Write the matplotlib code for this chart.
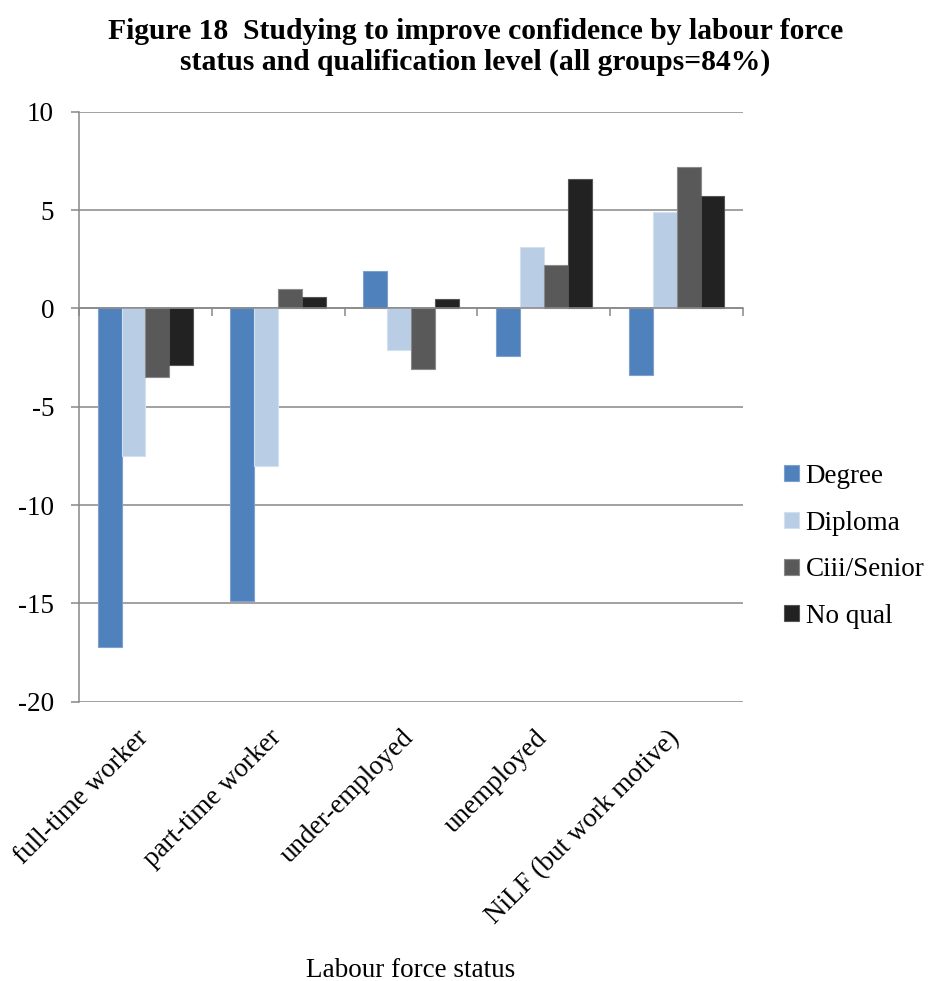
import numpy as np
import matplotlib.pyplot as plt
from matplotlib.transforms import ScaledTranslation

plt.rcParams["font.family"] = ["Liberation Serif", "DejaVu Serif"]
plt.rcParams["axes.unicode_minus"] = False

# Change in share studying to improve confidence, by labour force status
status = ["full-time worker", "part-time worker", "under-employed",
          "unemployed", "NiLF (but work motive)"]
degree = [-17.2, -14.9, 1.9, -2.4, -3.4]
diploma = [-7.5, -8.0, -2.1, 3.1, 4.9]
ciii_senior = [-3.5, 1.0, -3.1, 2.2, 7.2]
no_qual = [-2.9, 0.6, 0.5, 6.6, 5.7]

series = [("Degree", degree, "#4f81bd", "#7da0cc"),
          ("Diploma", diploma, "#b9cde5", "#d3e0ef"),
          ("Ciii/Senior", ciii_senior, "#595959", "#8a8a8a"),
          ("No qual", no_qual, "#222222", "#555555")]

grid_col = "#888888"
fs = 19.5

fig = plt.figure(figsize=(9.3, 9.81), dpi=100)
ax = fig.add_axes([0.085, 0.2847, 0.714, 0.6014])

x = np.arange(len(status))
w = 0.18
for i, (name, vals, col, edge) in enumerate(series):
    ax.bar(x + (i - 1.5) * w, vals, w, color=col, edgecolor=edge,
           linewidth=0.8, label=name, zorder=3)

ax.set_xlim(-0.5, len(status) - 0.5)
ax.set_ylim(-20, 10)
ax.set_yticks(np.arange(-20, 11, 5))
ax.yaxis.grid(True, color=grid_col, linewidth=1.1, zorder=0)
ax.tick_params(axis="y", direction="out", length=6, width=1.1,
               color=grid_col, pad=12, labelsize=fs)

# category axis sits on the zero line, ticks between groups
for s in ["top", "right"]:
    ax.spines[s].set_visible(False)
ax.spines["left"].set_color(grid_col)
ax.spines["left"].set_linewidth(1.1)
ax.spines["bottom"].set_position(("data", 0))
ax.spines["bottom"].set_color(grid_col)
ax.spines["bottom"].set_linewidth(1.1)
ax.spines["bottom"].set_zorder(4)
ax.set_xticks(np.arange(-0.5, len(status), 1.0))
ax.tick_params(axis="x", direction="out", length=6, width=1.1,
               color=grid_col, labelbottom=False)

# category names below the plot
sec = ax.secondary_xaxis(0)
sec.set_xticks(x, status)
sec.spines["bottom"].set_visible(False)
sec.tick_params(axis="x", length=0, pad=17, labelsize=fs)
shift = ScaledTranslation(8 / 100, 0, fig.dpi_scale_trans)
for lab in sec.get_xticklabels():
    lab.set_rotation(45)
    lab.set_ha("right")
    lab.set_va("top")
    lab.set_transform(lab.get_transform() + shift)

ax.set_xlabel("Labour force status", fontsize=fs)
ax.xaxis.set_label_coords(0.5, -0.434)

ax.legend(loc="center left", bbox_to_anchor=(0.843, 0.443),
          bbox_transform=fig.transFigure, frameon=False, fontsize=fs,
          handlelength=0.55, handleheight=0.55, handletextpad=0.25,
          labelspacing=0.8, borderpad=0, borderaxespad=0)

fig.text(0.511, 0.982,
         "Figure 18  Studying to improve confidence by labour force\n"
         "status and qualification level (all groups=84%)",
         ha="center", va="top", fontsize=21.3, fontweight="bold",
         linespacing=1.2)

fig.savefig("out.png", dpi=100)
